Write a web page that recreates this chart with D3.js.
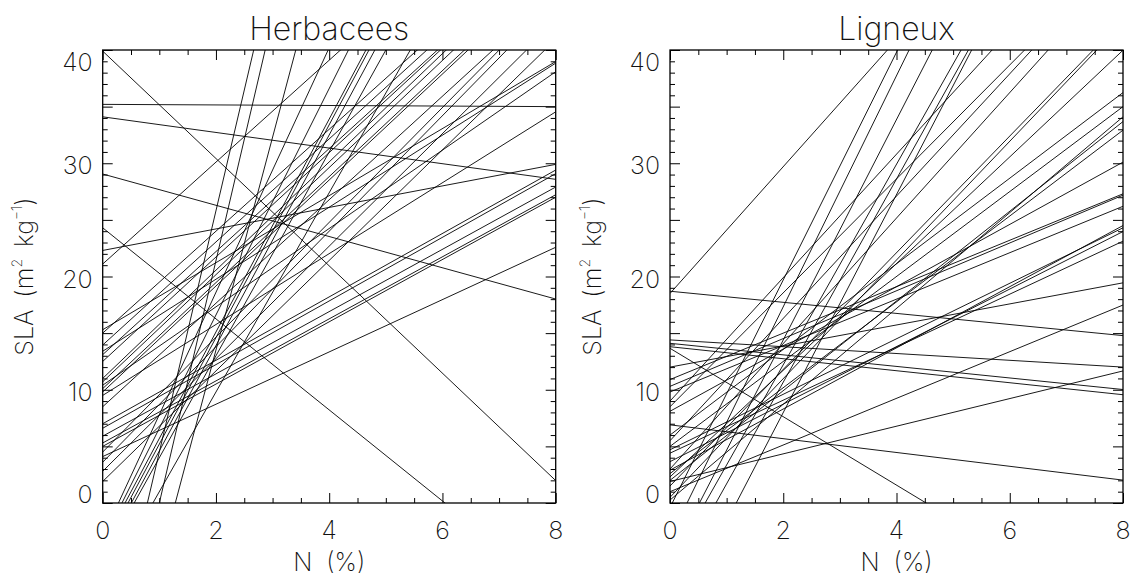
<!DOCTYPE html>
<html><head><meta charset="utf-8">
<script src="https://cdn.jsdelivr.net/npm/d3@7"></script>
<style>
body{margin:0;background:#fff}
text{font-family:"Inter","DejaVu Sans",sans-serif;font-weight:200;fill:#111}
</style>
</head><body>
<svg id="chart" width="1130" height="576"></svg>
<script>
// ---- data ----
const panelTitles = ["Herbacees", "Ligneux"];
const xTickValues = [0, 2, 4, 6, 8];
const yTickValues = [0, 10, 20, 30, 40];
const xDomain = [0, 8];
const yDomain = [0, 40];

// regression lines: SLA = intercept + slope * N
const herbIntercepts = [35.2, 34.1, 39.9, 29.05, 24.3, 22.3, 21.1,
  15.3, 13.4, 10.4, 9.5, 7.0, 6.6, 5.9, 5.3, 5.0, 4.1,
  -16.8, -21.4, -24.1, -3.0, -3.4, -3.7, -4.2, -4.7, -5.0, -7.8,
  15.0, 13.95, 13.1, 12.5, 11.0, 10.7, 10.1, 9.8, 8.5, 4.5, 3.6, 2.8, 1.9];
const herbSlopes = [-0.025, -0.69, -4.74, -1.38, -4.02, 0.95, 4.5,
  2.96, 3.18, 3.46, 3.13, 2.8, 2.81, 2.75, 2.74, 2.75, 2.31,
  21.3, 21.4, 18.8, 10.8, 10.0, 9.4, 9.4, 9.3, 9.0, 8.8,
  4.5, 4.55, 4.55, 4.61, 4.78, 4.73, 4.68, 4.68, 4.57, 5.07, 5.1, 4.97, 4.88];

const ligIntercepts = [18.7, 18.5, 14.4, 14.1, 13.8, 13.66, 6.9, 12.0, 1.9, 1.0,
  10.9, 10.3, 9.8, 4.7, 4.4, 3.65, 2.9, 8.1, 2.6, 2.0, 0.26, 5.0, 6.0,
  -0.4, -3.07, -5.06, -5.49, -7.27, -11.25,
  9.0, 8.5, 5.5, 3.0, 1.5, 0.5, 2.3];
const ligSlopes = [-0.49, 5.6, -0.30, -0.51, -0.53, -3.02, -0.61, 0.93, 1.22, 2.06,
  2.05, 2.11, 2.05, 2.45, 2.34, 2.54, 2.7, 2.75, 3.79, 3.96, 4.23, 3.75, 3.78,
  10.05, 10.2, 9.73, 8.85, 8.97, 9.62,
  5.45, 5.03, 5.40, 5.54, 5.15, 5.24, 4.71];

// ---- layout ----
const svg = d3.select("#chart");
const plotSize = 453, plotTop = 50;
const panelLefts = [102.7, 670];
const panels = [
  {title: panelTitles[0], a: herbIntercepts, b: herbSlopes},
  {title: panelTitles[1], a: ligIntercepts, b: ligSlopes}
];

panels.forEach((p, i) => {
  const left = panelLefts[i];
  const x = d3.scaleLinear().domain(xDomain).range([left, left + plotSize]);
  const y = d3.scaleLinear().domain(yDomain).range([plotTop + plotSize, plotTop]);
  const g = svg.append("g");

  g.append("clipPath").attr("id", "clip" + i)
    .append("rect").attr("x", left).attr("y", plotTop).attr("width", plotSize).attr("height", plotSize);

  const lines = p.a.map((a, k) => ({a: a, b: p.b[k]}));
  g.append("g").attr("clip-path", `url(#clip${i})`)
    .selectAll("line").data(lines).join("line")
    .attr("x1", x(xDomain[0])).attr("x2", x(xDomain[1]))
    .attr("y1", d => y(d.a + d.b * xDomain[0]))
    .attr("y2", d => y(d.a + d.b * xDomain[1]))
    .attr("stroke", "#000").attr("stroke-width", 0.9).attr("fill", "none");

  // ticks (inward, on all four sides)
  const xAll = d3.range(0, 8.001, 0.5), yAll = d3.range(0, 40.001, 1);
  const addAxis = (gen, tx, ty) => {
    const ax = g.append("g").attr("transform", `translate(${tx},${ty})`).call(gen);
    ax.select(".domain").remove();
    ax.selectAll("text").remove();
    ax.selectAll("line").attr("stroke", "#000").attr("stroke-width", 1);
  };
  const xMajorSet = v => Math.abs(v / 2 - Math.round(v / 2)) < 1e-6;
  const yMajorSet = v => Math.abs(v / 5 - Math.round(v / 5)) < 1e-6;
  const xMin = xAll.filter(v => !xMajorSet(v)), xMaj = xAll.filter(xMajorSet);
  const yMin = yAll.filter(v => !yMajorSet(v)), yMaj = yAll.filter(yMajorSet);
  addAxis(d3.axisBottom(x).tickValues(xMin).tickSize(-5), 0, plotTop + plotSize);
  addAxis(d3.axisBottom(x).tickValues(xMaj).tickSize(-10), 0, plotTop + plotSize);
  addAxis(d3.axisTop(x).tickValues(xMin).tickSize(-5), 0, plotTop);
  addAxis(d3.axisTop(x).tickValues(xMaj).tickSize(-10), 0, plotTop);
  addAxis(d3.axisLeft(y).tickValues(yMin).tickSize(-5), left, 0);
  addAxis(d3.axisLeft(y).tickValues(yMaj).tickSize(-10), left, 0);
  addAxis(d3.axisRight(y).tickValues(yMin).tickSize(-5), left + plotSize, 0);
  addAxis(d3.axisRight(y).tickValues(yMaj).tickSize(-10), left + plotSize, 0);

  g.append("rect").attr("x", left).attr("y", plotTop).attr("width", plotSize).attr("height", plotSize)
    .attr("fill", "none").attr("stroke", "#000").attr("stroke-width", 1.3);

  // tick labels
  g.selectAll(".xl").data(xTickValues).join("text")
    .attr("x", d => x(d)).attr("y", plotTop + plotSize + 36)
    .attr("text-anchor", "middle").attr("font-size", 25).text(d => d);
  const yOff = v => (v === yDomain[1] ? 20.7 : v === yDomain[0] ? 0 : 11);
  g.selectAll(".yl").data(yTickValues).join("text")
    .attr("x", left - 10).attr("y", d => y(d) + yOff(d))
    .attr("text-anchor", "end").attr("font-size", 25).text(d => d);

  // titles
  g.append("text").attr("x", left + plotSize / 2).attr("y", 40)
    .attr("text-anchor", "middle").attr("font-size", 32).text(p.title);
  const xt = g.append("text").attr("x", left + plotSize / 2).attr("y", 571)
    .attr("text-anchor", "middle").attr("font-size", 25);
  xt.append("tspan").text("N");
  xt.append("tspan").attr("dx", 14).text("(%)");
  const yt = g.append("text")
    .attr("transform", `translate(${left - 69.5},${plotTop + plotSize / 2}) rotate(-90)`)
    .attr("text-anchor", "middle").attr("font-size", 25);
  yt.append("tspan").text("SLA");
  yt.append("tspan").attr("dx", 12).text("(m");
  yt.append("tspan").attr("font-size", 14).attr("dy", -11).text("2");
  yt.append("tspan").attr("dy", 11).attr("dx", 12).text("kg");
  yt.append("tspan").attr("font-size", 14).attr("dy", -11).text("\u22121");
  yt.append("tspan").attr("dy", 11).text(")");
});
</script>
</body></html>
